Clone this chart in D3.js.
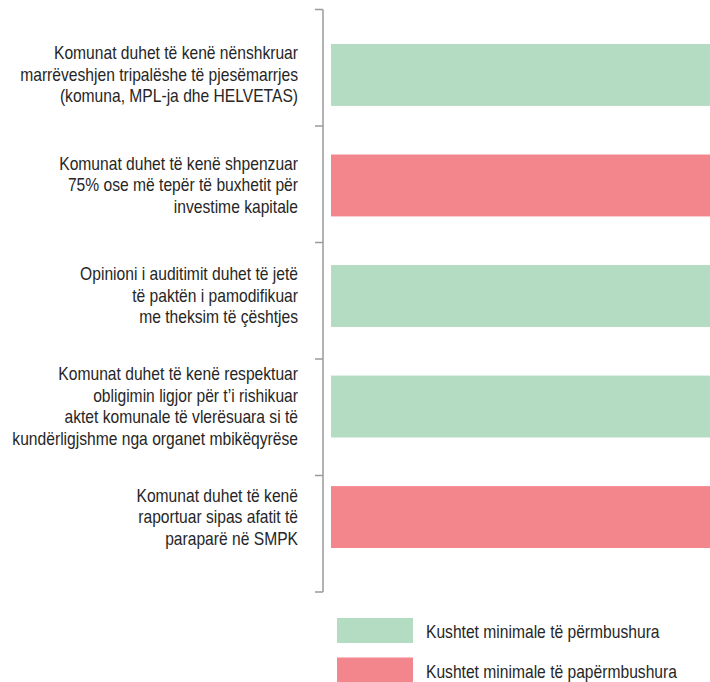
<!DOCTYPE html>
<html>
<head>
<meta charset="utf-8">
<script src="https://cdn.jsdelivr.net/npm/d3@7"></script>
<style>
  html, body { margin: 0; padding: 0; background: #fff; }
  svg { display: block; }
  text { font-family: "Liberation Sans", Arial, sans-serif; fill: #262626; }
</style>
</head>
<body>
<script>
// criteria shown on the left, top to bottom
const criteria = [
  ["Komunat duhet të kenë nënshkruar", "marrëveshjen tripalëshe të pjesëmarrjes", "(komuna, MPL-ja dhe HELVETAS)"],
  ["Komunat duhet të kenë shpenzuar", "75% ose më tepër të buxhetit për", "investime kapitale"],
  ["Opinioni i auditimit duhet të jetë", "të paktën i pamodifikuar", "me theksim të çështjes"],
  ["Komunat duhet të kenë respektuar", "obligimin ligjor për t’i rishikuar", "aktet komunale të vlerësuara si të", "kundërligjshme nga organet mbikëqyrëse"],
  ["Komunat duhet të kenë", "raportuar sipas afatit të", "paraparë në SMPK"]
];
// 1 = met, 0 = not met
const status = [1, 0, 1, 1, 0];
const barValues = [1, 1, 1, 1, 1];
const legendLabels = ["Kushtet minimale të përmbushura", "Kushtet minimale të papërmbushura"];

const width = 710, height = 682;
const colors = d3.scaleOrdinal().domain([1, 0]).range(["#b3dcc2", "#f2868c"]);

const svg = d3.select("body").append("svg")
  .attr("width", width)
  .attr("height", height);

const ids = d3.range(criteria.length);

// axis bands
const yAxis = d3.scaleBand().domain(ids).range([9.5, 592]);
// bars
const y = d3.scaleBand().domain(ids).range([44, 548]).paddingInner(0.44).paddingOuter(0);
const x = d3.scaleLinear().domain([0, 1]).range([331, 712]);

const axisX = 323;
const axisG = svg.append("g").attr("stroke", "#9a9a9a").attr("stroke-width", 1.5).attr("fill", "none");
axisG.append("line")
  .attr("x1", axisX).attr("x2", axisX)
  .attr("y1", yAxis.range()[0]).attr("y2", yAxis.range()[1]);
axisG.selectAll("line.tick")
  .data(ids.map(i => yAxis(i)).concat([yAxis.range()[1]]))
  .join("line")
  .attr("class", "tick")
  .attr("x1", axisX - 8).attr("x2", axisX)
  .attr("y1", d => d).attr("y2", d => d);

svg.append("g").selectAll("rect")
  .data(ids)
  .join("rect")
  .attr("x", x(0))
  .attr("y", i => y(i))
  .attr("width", i => x(barValues[i]) - x(0))
  .attr("height", y.bandwidth())
  .attr("fill", i => colors(status[i]));

// condensed look: measure the widest line and squeeze horizontally
const probe = svg.append("text").attr("font-size", 18).text(criteria[0][1]);
const sx = 278 / probe.node().getComputedTextLength();
probe.remove();

const lineH = 21.5;
const labels = svg.append("g").selectAll("g")
  .data(ids)
  .join("g")
  .attr("transform", `translate(298,0) scale(${sx},1)`)
  .append("text")
  .attr("text-anchor", "end")
  .attr("font-size", 18);
labels.each(function(i) {
  const lines = criteria[i];
  const cy = y(i) + y.bandwidth() / 2;
  const first = cy - (lines.length - 1) * lineH / 2 + 6;
  d3.select(this).selectAll("tspan")
    .data(lines)
    .join("tspan")
    .attr("x", 0)
    .attr("y", (d, k) => first + k * lineH)
    .text(d => d);
});

// legend
const lg = svg.append("g").selectAll("g")
  .data(legendLabels)
  .join("g")
  .attr("transform", (d, i) => `translate(337, ${618 + i * 39.5})`);
lg.append("rect")
  .attr("width", 76).attr("height", 25)
  .attr("fill", (d, i) => colors(i === 0 ? 1 : 0));
lg.append("text")
  .attr("transform", `translate(89,20) scale(${sx},1)`)
  .attr("font-size", 18)
  .text(d => d);
</script>
</body>
</html>
